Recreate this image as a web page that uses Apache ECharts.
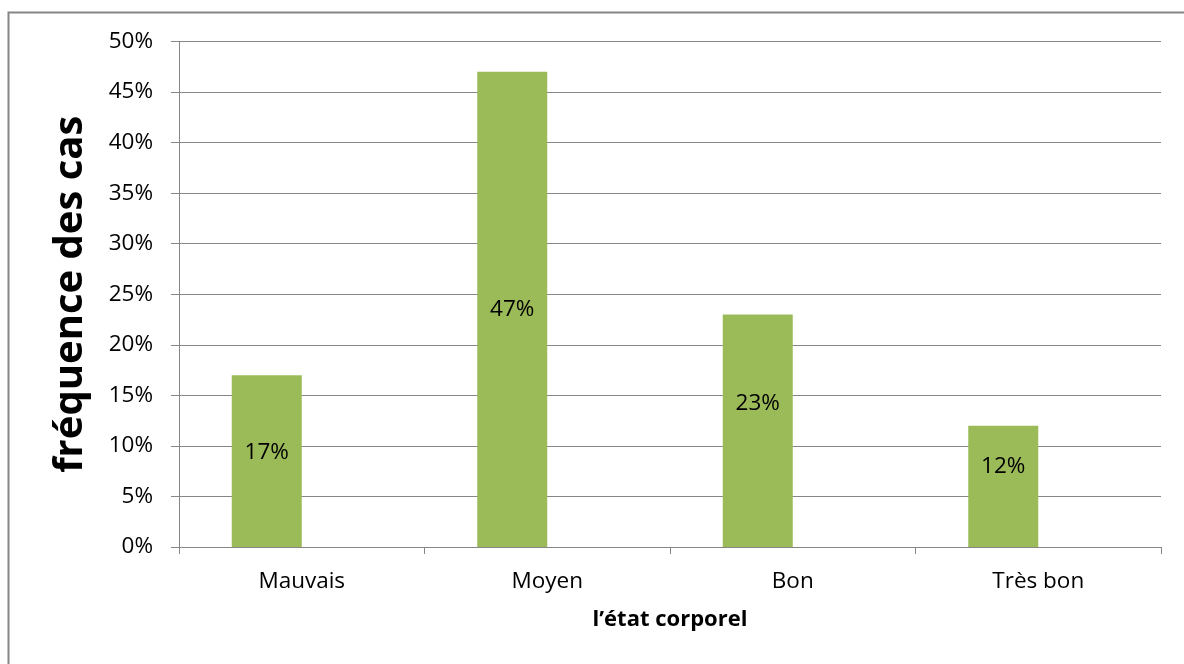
<!DOCTYPE html>
<html>
<head>
<meta charset="utf-8">
<script src="https://cdn.jsdelivr.net/npm/echarts@6/dist/echarts.min.js"></script>
<style>
  html, body { margin: 0; padding: 0; background: #fff; }
  #chart { width: 1184px; height: 664px; }
</style>
</head>
<body>
<div id="chart"></div>
<script>
// Body condition categories and share of cases (percent)
const categories = ['Mauvais', 'Moyen', 'Bon', 'Très bon'];
const frequencies = [17, 47, 23, 12];
// Empty companion series: keeps the two-slot layout per category
const emptySeries = [null, null, null, null];
// Vertical nudge of each value label inside its bar (px)
const labelShift = [-8, 0, -27, -20];

const FONT = '"Open Sans", "Noto Sans", sans-serif';
const GRID_GRAY = '#868686';
const LABEL_SIZE = 22.5;

const chart = echarts.init(document.getElementById('chart'), null, { renderer: 'canvas' });

chart.setOption({
  backgroundColor: '#ffffff',
  animation: false,
  grid: { left: 179, right: 23, top: 41.5, bottom: 117, containLabel: false },
  xAxis: {
    type: 'category',
    data: categories,
    name: 'l’état corporel',
    nameLocation: 'middle',
    nameGap: 62,
    nameTextStyle: { fontFamily: FONT, fontSize: 22, fontWeight: 'bold', color: '#000' },
    axisLine: { lineStyle: { color: GRID_GRAY, width: 1 } },
    axisTick: { show: true, length: 7, lineStyle: { color: GRID_GRAY } },
    axisLabel: { fontFamily: FONT, fontSize: LABEL_SIZE, color: '#000', margin: 23 }
  },
  yAxis: {
    type: 'value',
    min: 0,
    max: 50,
    interval: 5,
    name: 'fréquence des cas',
    nameLocation: 'middle',
    nameRotate: 90,
    nameGap: 88,
    nameTextStyle: { fontFamily: FONT, fontSize: 40, fontWeight: 'bold', color: '#000' },
    axisLine: { show: true, lineStyle: { color: GRID_GRAY, width: 1 } },
    axisTick: { show: true, length: 8, lineStyle: { color: GRID_GRAY } },
    axisLabel: {
      fontFamily: FONT, fontSize: LABEL_SIZE, color: '#000', margin: 26,
      formatter: v => v + '%'
    },
    splitLine: { show: true, lineStyle: { color: GRID_GRAY, width: 1 } }
  },
  series: [
    {
      name: 'Fréquence',
      type: 'bar',
      barWidth: 70,
      barGap: '0%',
      itemStyle: { color: '#9BBB59' },
      data: frequencies.map((v, i) => ({
        value: v,
        label: { offset: [0, labelShift[i]] }
      })),
      label: {
        show: true,
        position: 'inside',
        fontFamily: FONT,
        fontSize: LABEL_SIZE,
        color: '#000',
        formatter: p => p.value + '%'
      }
    },
    {
      name: 'Série 2',
      type: 'bar',
      barWidth: 70,
      barGap: '0%',
      itemStyle: { color: '#C0504D' },
      data: emptySeries
    }
  ],
  graphic: [
    // Chart frame (top and left edges)
    {
      type: 'polyline',
      silent: true,
      shape: { points: [[8.5, 664], [8.5, 12.5], [1184, 12.5]] },
      style: { stroke: '#868686', lineWidth: 2, fill: null }
    }
  ]
});
</script>
</body>
</html>
